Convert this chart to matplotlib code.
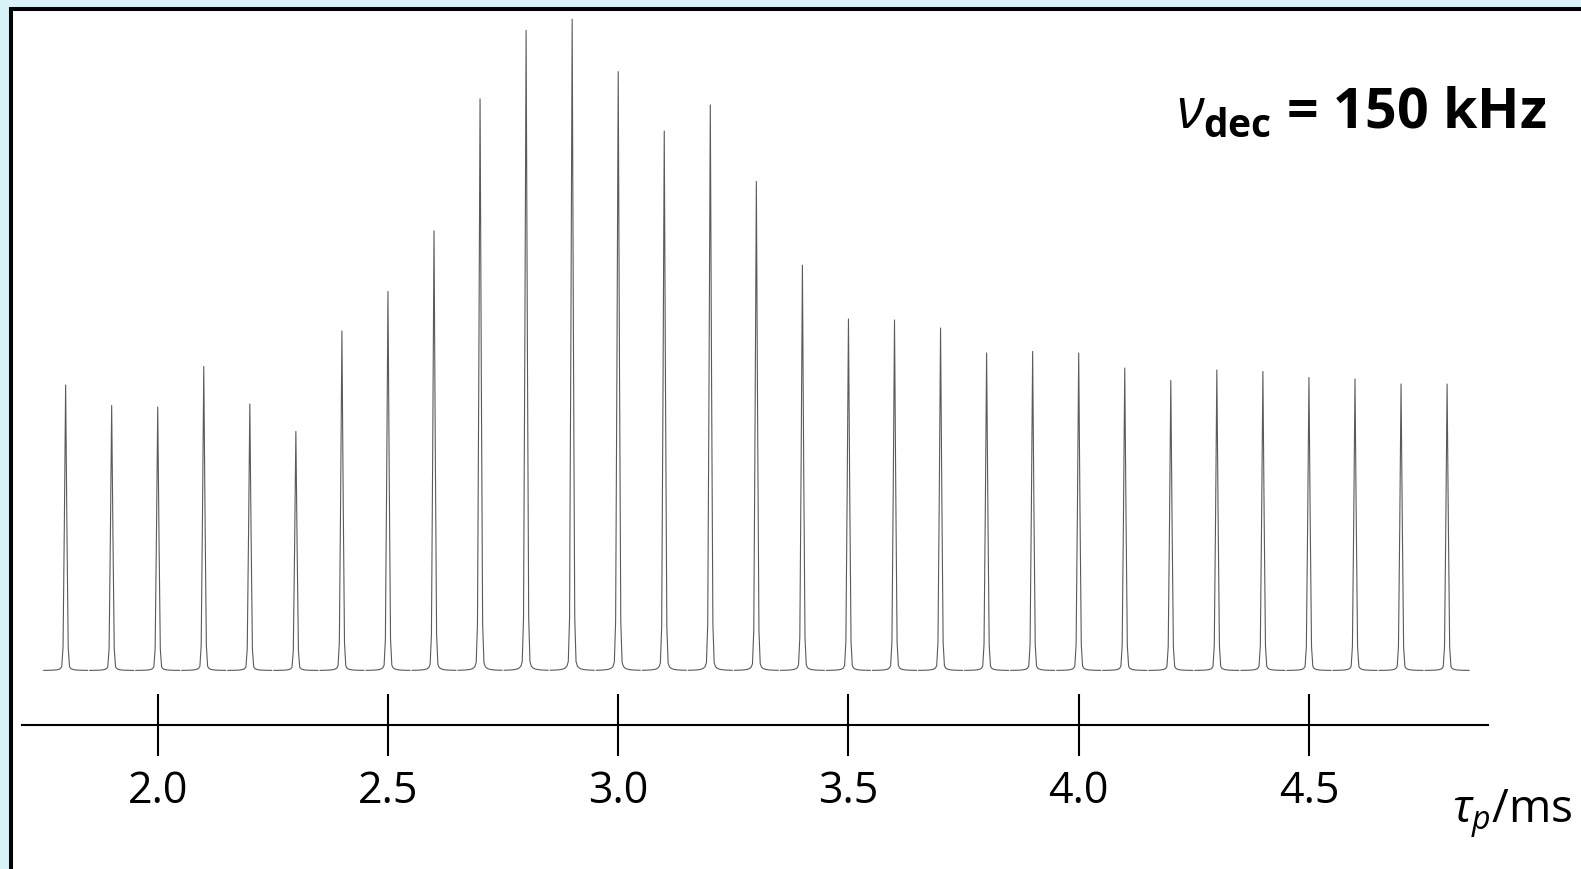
import numpy as np
import matplotlib.pyplot as plt
from matplotlib.patches import Rectangle

plt.rcParams['mathtext.fontset'] = 'custom'
plt.rcParams['mathtext.rm'] = 'Open Sans'
plt.rcParams['mathtext.it'] = 'Open Sans:italic'
plt.rcParams['mathtext.bf'] = 'Open Sans:bold'

# pulse length tau_p (ms) of each spectrum and its peak height (arb. units)
tau_p = [1.8, 1.9, 2.0, 2.1, 2.2, 2.3, 2.4, 2.5, 2.6, 2.7, 2.8,
         2.9, 3.0, 3.1, 3.2, 3.3, 3.4, 3.5, 3.6, 3.7, 3.8, 3.9,
         4.0, 4.1, 4.2, 4.3, 4.4, 4.5, 4.6, 4.7, 4.8]
intensity = [285.5, 265, 263.5, 304, 266.5, 239, 339.5, 379, 439.6, 571.7, 640.2,
             651.3, 598.9, 539.4, 565.6, 489, 405.3, 351.5, 350.5, 342.5, 317.5, 319,
             317.5, 302.5, 290, 300.5, 299, 293, 291.5, 286.5, 286.5]
tick_vals = [2.0, 2.5, 3.0, 3.5, 4.0, 4.5]
tick_text = ['2.0', '2.5', '3.0', '3.5', '4.0', '4.5']

fig = plt.figure(figsize=(15.81, 8.70), dpi=100)
fig.patch.set_facecolor('#daf3f8')

# white panel with black left/top edge
panel = Rectangle((10.5 / 1581, -0.1), 1.2, 1 - 9.5 / 870 + 0.1,
                  transform=fig.transFigure, facecolor='white',
                  edgecolor='black', linewidth=2.9, zorder=-1)
fig.add_artist(panel)

ax = fig.add_axes([0, 0, 1, 1])
ax.set_facecolor('none')
ax.set_xlim(1.6575, 5.0908)
ax.set_ylim(-198.5, 671.5)

# each spectrum: a sharp line with a small foot, sampled on a coarse grid
step = 0.0028
n_side = 17
x = np.arange(-n_side, n_side + 1) * step
core = np.exp(-0.5 * (x / 0.0024) ** 2)
foot = 1 / (1 + (x / 0.0028) ** 2)
shape = 0.88 * core + 0.12 * foot
for t, h in zip(tau_p, intensity):
    ax.plot(t + x, h * shape, color='#5a5a5a', linewidth=0.8)

for side in ['top', 'right', 'left']:
    ax.spines[side].set_visible(False)
ax.spines['bottom'].set_position(('data', -54.5))
ax.spines['bottom'].set_bounds(1.7047, 4.8888)
ax.spines['bottom'].set_linewidth(1.5)
ax.set_yticks([])
ax.set_xticks(tick_vals)
ax.set_xticklabels(tick_text, fontsize=31, family='Open Sans')
ax.tick_params(axis='x', direction='inout', length=45, width=1.5, pad=8.5)

fig.text(1547 / 1581, 1 - 128 / 870, r'$\nu_{\mathbf{dec}}$ = 150 kHz',
         fontsize=40, fontweight='bold', family='Open Sans',
         ha='right', va='baseline')
fig.text(1572 / 1581, 1 - 823 / 870, r'$\tau_p$/ms',
         fontsize=33, family='Open Sans', ha='right', va='baseline')

fig.savefig('out.png', dpi=100, facecolor=fig.get_facecolor())
